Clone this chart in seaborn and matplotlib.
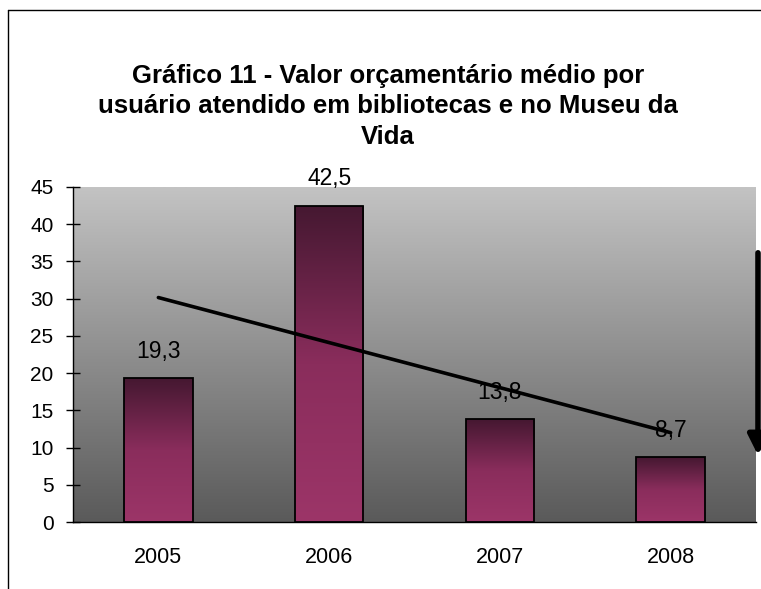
import numpy as np
import pandas as pd
import matplotlib
matplotlib.use("Agg")
import matplotlib.pyplot as plt
from matplotlib.colors import LinearSegmentedColormap
from matplotlib.lines import Line2D
import seaborn as sns

# chart data
years = ["2005", "2006", "2007", "2008"]
values = [19.3, 42.5, 13.8, 8.7]
value_labels = ["19,3", "42,5", "13,8", "8,7"]
y_ticks = [0, 5, 10, 15, 20, 25, 30, 35, 40, 45]
title = "Gráfico 11 - Valor orçamentário médio por\nusuário atendido em bibliotecas e no Museu da\nVida"

sns.set_theme(style="white")
plt.rcParams["font.family"] = ["Liberation Sans", "DejaVu Sans"]
plt.rcParams["text.color"] = "black"
plt.rcParams["xtick.color"] = "black"
plt.rcParams["ytick.color"] = "black"

df = pd.DataFrame({"ano": years, "valor": values})

fig = plt.figure(figsize=(7.61, 5.89), dpi=100)
ax = fig.add_axes([73 / 761, 1 - 522 / 589, (756 - 73) / 761, (522 - 187) / 589])

sns.barplot(data=df, x="ano", y="valor", ax=ax, width=0.4, color="#7a2550",
            edgecolor="black", linewidth=1.3, zorder=3)

ax.set_xlim(-0.5, 3.5)
ax.set_ylim(0, 45)

# gray gradient background of the plot area
bg = LinearSegmentedColormap.from_list("bg", ["#5a5a5a", "#c3c3c3"])
ax.imshow(np.linspace(0, 1, 256).reshape(-1, 1), cmap=bg, origin="lower",
          extent=[0, 1, 0, 1], transform=ax.transAxes, aspect="auto", zorder=0)

# per-bar gradient, dark at the top
bar_cmap = LinearSegmentedColormap.from_list("bar", ["#9c3568", "#8a2d5c", "#451831"])
for patch in ax.patches:
    x0, y0 = patch.get_x(), patch.get_y()
    w, h = patch.get_width(), patch.get_height()
    im = ax.imshow(np.linspace(0, 1, 256).reshape(-1, 1), cmap=bar_cmap, origin="lower",
                   extent=[x0, x0 + w, y0, y0 + h], aspect="auto", zorder=3.5)
    im.set_clip_path(patch)
    patch.set_facecolor("none")
    patch.set_zorder(4)

ax.set_xlim(-0.5, 3.5)
ax.set_ylim(0, 45)

# linear trend line
sns.regplot(x=np.arange(len(values)), y=values, ax=ax, scatter=False, ci=None,
            truncate=True, line_kws=dict(color="black", lw=2.6, zorder=5))
ax.set_xlim(-0.5, 3.5)
ax.set_ylim(0, 45)

# data labels
for i, (v, lab) in enumerate(zip(values, value_labels)):
    ax.annotate(lab, (i, v), xytext=(0, 19.5), textcoords="offset points",
                ha="center", va="center", fontsize=16.5, color="black", zorder=6,
                annotation_clip=False)

# axes styling
ax.set_yticks(y_ticks)
ax.set_xticks([-0.5, 0.5, 1.5, 2.5, 3.5])
ax.set_xticklabels([])
ax.set_xticks(range(len(years)), minor=True)
ax.set_xticklabels(years, minor=True)
ax.tick_params(axis="x", which="major", direction="inout", length=10, width=1, color="black")
ax.tick_params(axis="x", which="minor", length=0, pad=18, labelsize=15.5)
ax.tick_params(axis="y", direction="inout", length=10, width=1, color="black",
               labelsize=15, pad=9, left=True)
ax.set_xlabel("")
ax.set_ylabel("")
for side in ["top", "right"]:
    ax.spines[side].set_visible(False)
for side in ["left", "bottom"]:
    ax.spines[side].set_color("black")
    ax.spines[side].set_linewidth(1)

fig.text(388 / 761, 1 - 64 / 589, title, ha="center", va="top",
         fontsize=18.5, fontweight="bold", linespacing=1.33)

# frame around the chart
fig.add_artist(Line2D([8 / 761, 1], [1 - 10 / 589, 1 - 10 / 589], transform=fig.transFigure,
                      color="black", lw=1))
fig.add_artist(Line2D([8 / 761, 8 / 761], [0, 1 - 10 / 589], transform=fig.transFigure,
                      color="black", lw=1))

# downward arrow at the right edge
ax.annotate("", xy=(758, 589 - 458), xytext=(758, 589 - 250),
            xycoords="figure pixels", textcoords="figure pixels",
            arrowprops=dict(arrowstyle="-|>", lw=4, color="black", mutation_scale=30),
            annotation_clip=False)

fig.savefig("out.png", dpi=100)
